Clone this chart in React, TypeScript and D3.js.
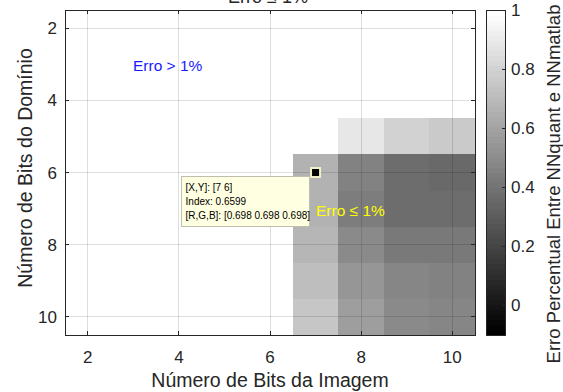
import * as d3 from "d3";

// bits of the image (x) and of the domain (y)
const imageBits = [7, 8, 9, 10];
const domainBits = [5, 6, 7, 8, 9, 10];
// error values, rows = domainBits, cols = imageBits (null = no cell)
const errValues: (number | null)[][] = [
  [null, 0.88, 0.8, 0.76],
  [0.66, 0.46, 0.37, 0.35],
  [0.67, 0.44, 0.37, 0.37],
  [0.69, 0.5, 0.43, 0.43],
  [0.72, 0.55, 0.48, 0.45],
  [0.75, 0.58, 0.5, 0.47],
];
const xTicks = [2, 4, 6, 8, 10];
const yTicks = [2, 4, 6, 8, 10];
const cbTicks = [0, 0.2, 0.4, 0.6, 0.8, 1];
const tipLines = ["[X,Y]: [7 6]", "Index: 0.6599", "[R,G,B]: [0.698 0.698 0.698]"];

const W = 563;
const H = 392;
const font = "'Liberation Sans', Arial, sans-serif";
const axisColor = "#262626";

const box = { left: 65, right: 475, top: 10, bottom: 335 };
const cb = { left: 486, right: 505 };

const cmin = -0.1;
const cmax = 1;
const nColors = 64;
function grayOf(v: number) {
  let k = Math.floor(((v - cmin) / (cmax - cmin)) * nColors);
  k = Math.max(0, Math.min(nColors - 1, k));
  const g = Math.round((k / (nColors - 1)) * 255);
  return `rgb(${g},${g},${g})`;
}

export default function App() {
  const x = d3.scaleLinear().domain([1.5, 10.5]).range([box.left, box.right]);
  const y = d3.scaleLinear().domain([1.5, 10.5]).range([box.top, box.bottom]);
  const cy = d3.scaleLinear().domain([cmin, cmax]).range([box.bottom, box.top]);
  const tick = 4;

  const cells: { xi: number; yi: number; v: number }[] = [];
  domainBits.forEach((yb, r) =>
    imageBits.forEach((xb, c) => {
      const v = errValues[r][c];
      if (v !== null) cells.push({ xi: xb, yi: yb, v });
    })
  );

  const levels = d3.range(nColors);
  const px = x(7);
  const py = y(6);
  const tipW = 128;
  const tipH = 50;
  const tipX = px - 6 - tipW;
  const tipY = py + 4;

  return (
    <svg
      width={W}
      height={H}
      style={{ position: "absolute", left: 0, top: 0, background: "#fff" }}
      fontFamily={font}
    >
      {/* title, mostly clipped like the original */}
      <text x={268} y={3} textAnchor="middle" fontSize={18} fill={axisColor}>
        Erro ≤ 1%
      </text>
      <rect x={box.left} y={box.top} width={box.right - box.left} height={box.bottom - box.top} fill="#fff" />

      {/* heatmap cells */}
      <g shapeRendering="crispEdges">
        {cells.map((d, i) => (
          <rect
            key={i}
            x={x(d.xi - 0.5)}
            y={y(d.yi - 0.5)}
            width={x(d.xi + 0.5) - x(d.xi - 0.5)}
            height={y(d.yi + 0.5) - y(d.yi - 0.5)}
            fill={grayOf(d.v)}
          />
        ))}
      </g>

      {/* grid */}
      <g stroke="#000" strokeOpacity={0.13} shapeRendering="crispEdges">
        {xTicks.map((t) => (
          <line key={"gx" + t} x1={x(t)} x2={x(t)} y1={box.top} y2={box.bottom} />
        ))}
        {yTicks.map((t) => (
          <line key={"gy" + t} x1={box.left} x2={box.right} y1={y(t)} y2={y(t)} />
        ))}
      </g>

      {/* axes box and ticks */}
      <g stroke={axisColor} strokeWidth={1} shapeRendering="crispEdges">
        <rect
          x={box.left}
          y={box.top}
          width={box.right - box.left}
          height={box.bottom - box.top}
          fill="none"
        />
        {xTicks.map((t) => (
          <g key={"tx" + t}>
            <line x1={x(t)} x2={x(t)} y1={box.bottom} y2={box.bottom - tick} />
            <line x1={x(t)} x2={x(t)} y1={box.top} y2={box.top + tick} />
          </g>
        ))}
        {yTicks.map((t) => (
          <g key={"ty" + t}>
            <line x1={box.left} x2={box.left + tick} y1={y(t)} y2={y(t)} />
            <line x1={box.right} x2={box.right - tick} y1={y(t)} y2={y(t)} />
          </g>
        ))}
      </g>
      <g fontSize={17} fill={axisColor}>
        {xTicks.map((t) => (
          <text key={"lx" + t} x={x(t)} y={box.bottom + 28} textAnchor="middle">
            {t}
          </text>
        ))}
        {yTicks.map((t) => (
          <text key={"ly" + t} x={box.left - 8} y={y(t) + 6} textAnchor="end">
            {t}
          </text>
        ))}
      </g>
      <text x={270} y={387} textAnchor="middle" fontSize={19.5} fill={axisColor}>
        Número de Bits da Imagem
      </text>
      <text
        transform={`translate(32,168) rotate(-90)`}
        textAnchor="middle"
        fontSize={19.5}
        fill={axisColor}
      >
        Número de Bits do Domínio
      </text>

      {/* annotations */}
      <text x={133} y={71} fontSize={15.5} fill="#1a1aff">
        Erro &gt; 1%
      </text>
      <text x={316} y={216} fontSize={15.5} fill="#ffff00">
        Erro ≤ 1%
      </text>

      {/* data tip */}
      <rect x={tipX} y={tipY} width={tipW} height={tipH} fill="#ffffe1" stroke="#bdbdb0" />
      {tipLines.map((s, i) => (
        <text key={s} x={tipX + 4} y={tipY + 14 + i * 14} fontSize={10} fill="#000">
          {s}
        </text>
      ))}
      <rect x={px - 4.5} y={py - 4.5} width={9} height={9} fill="#000" stroke="#f0f0c8" strokeWidth={2} />

      {/* colorbar */}
      <g shapeRendering="crispEdges">
        {levels.map((k) => {
          const v0 = cmin + (k / nColors) * (cmax - cmin);
          const v1 = cmin + ((k + 1) / nColors) * (cmax - cmin);
          const g = Math.round((k / (nColors - 1)) * 255);
          return (
            <rect
              key={k}
              x={cb.left}
              y={cy(v1)}
              width={cb.right - cb.left}
              height={cy(v0) - cy(v1) + 0.5}
              fill={`rgb(${g},${g},${g})`}
            />
          );
        })}
        <rect
          x={cb.left}
          y={box.top}
          width={cb.right - cb.left}
          height={box.bottom - box.top}
          fill="none"
          stroke={axisColor}
        />
        {cbTicks.map((t) => (
          <line key={"ct" + t} x1={cb.right} x2={cb.right - 3} y1={cy(t)} y2={cy(t)} stroke={axisColor} />
        ))}
      </g>
      <g fontSize={17} fill={axisColor}>
        {cbTicks.map((t) => (
          <text key={"cl" + t} x={cb.right + 6} y={cy(t) + 6}>
            {t}
          </text>
        ))}
      </g>
      <text
        transform={`translate(560,184) rotate(-90)`}
        textAnchor="middle"
        fontSize={18.5}
        fill={axisColor}
      >
        Erro Percentual Entre NNquant e NNmatlab
      </text>
    </svg>
  );
}
